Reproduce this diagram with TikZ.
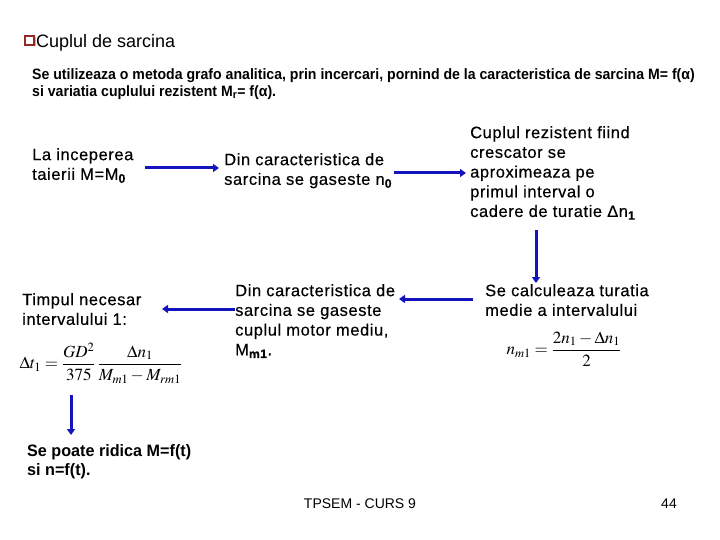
\documentclass[tikz,border=0pt]{standalone}
\usepackage{mathptmx}
\usepackage{fontspec}
\setmainfont{Liberation Sans}
\newfontfamily\narrowfont{Liberation Sans}[FakeStretch=0.94]
\newfontfamily\ridicafont{Liberation Sans}[FakeStretch=0.98]
\newfontfamily\bodyfont{Liberation Sans}[LetterSpace=3.5, FakeBold=0.4]
\usetikzlibrary{arrows.meta}
\definecolor{arrowblue}{RGB}{20,20,190}
\definecolor{boxred}{RGB}{150,40,40}
\newcommand{\sub}[1]{\textsubscript{\bfseries #1}}
\tikzset{
  body/.style={anchor=north west, inner sep=0pt, align=left, font=\bodyfont\fontsize{16.5}{19.7}\selectfont},
  narrowbody/.style={anchor=north west, inner sep=0pt, align=left, font=\ridicafont\bfseries\fontsize{16.5}{19}\selectfont},
  flow/.style={draw=arrowblue, line width=3pt, -{Triangle[length=6pt,width=8pt]}},
  formula/.style={inner sep=0pt, font=\fontsize{17}{20}\selectfont},
}
\begin{document}
\begin{tikzpicture}[x=1pt,y=-1pt]
\useasboundingbox (0,0) rectangle (720,540);
% checkbox bullet
\fill[gray!60] (26.5,37.5) rectangle (35.5,46.5);
\draw[boxred, line width=1.2pt, fill=white] (25,36) rectangle (34,45);
\node[anchor=north west, inner sep=0pt, font=\fontsize{18}{21}\selectfont] (title) at (36,34) {Cuplul de sarcina};
\node[anchor=north west, inner sep=0pt, align=left, font=\narrowfont\bfseries\fontsize{15}{17}\selectfont] (intro) at (32,68)
  {Se utilizeaza o metoda grafo analitica, prin incercari, pornind de la caracteristica de sarcina M= f(α)\\
   si variatia cuplului rezistent M\textsubscript{r}= f(α).};

\node[body] (start) at (32,148) {La inceperea\\taierii M=M\sub{0}};
\node[body] (nzero) at (224,153) {Din caracteristica de\\sarcina se gaseste n\sub{0}};
\node[body] (drop) at (470,126) {Cuplul rezistent fiind\\crescator se\\aproximeaza pe\\primul interval o\\cadere de turatie Δn\sub{1}};
\node[body] (mean) at (485,284) {Se calculeaza turatia\\medie a intervalului};
\node[formula] (fmean) at (564,349) {$\displaystyle n_{m1}=\frac{2n_1-\Delta n_1}{2}$};
\node[body] (motor) at (235,284) {Din caracteristica de\\sarcina se gaseste\\cuplul motor mediu,\\M\sub{m1}.};
\node[body] (time) at (22,293) {Timpul necesar\\intervalului 1:};
\node[formula] (ftime) at (101,363) {$\displaystyle \Delta t_1=\frac{GD^2}{375}\,\frac{\Delta n_1}{M_{m1}-M_{rm1}}$};
\node[narrowbody] (result) at (27,444) {Se poate ridica M=f(t)\\si n=f(t).};

\node[anchor=base, inner sep=0pt, font=\fontsize{14}{16}\selectfont] (footer) at (360,508) {TPSEM - CURS 9};
\node[anchor=base east, inner sep=0pt, font=\fontsize{14}{16}\selectfont] (page) at (677,508) {44};

% connector endpoints
\coordinate (a1s) at (145,168); \coordinate (a1e) at (219,168);
\coordinate (a2s) at (394,173); \coordinate (a2e) at (466,173);
\coordinate (a3s) at (536,230); \coordinate (a3e) at (536,283);
\coordinate (a4s) at (473,299); \coordinate (a4e) at (399,299);
\coordinate (a5s) at (235,309); \coordinate (a5e) at (162,309);
\coordinate (a6s) at (71,395);  \coordinate (a6e) at (71,435);

\draw[flow] (a1s) -- (a1e);
\draw[flow] (a2s) -- (a2e);
\draw[flow] (a3s) -- (a3e);
\draw[flow] (a4s) -- (a4e);
\draw[flow] (a5s) -- (a5e);
\draw[flow] (a6s) -- (a6e);
\end{tikzpicture}
\end{document}
